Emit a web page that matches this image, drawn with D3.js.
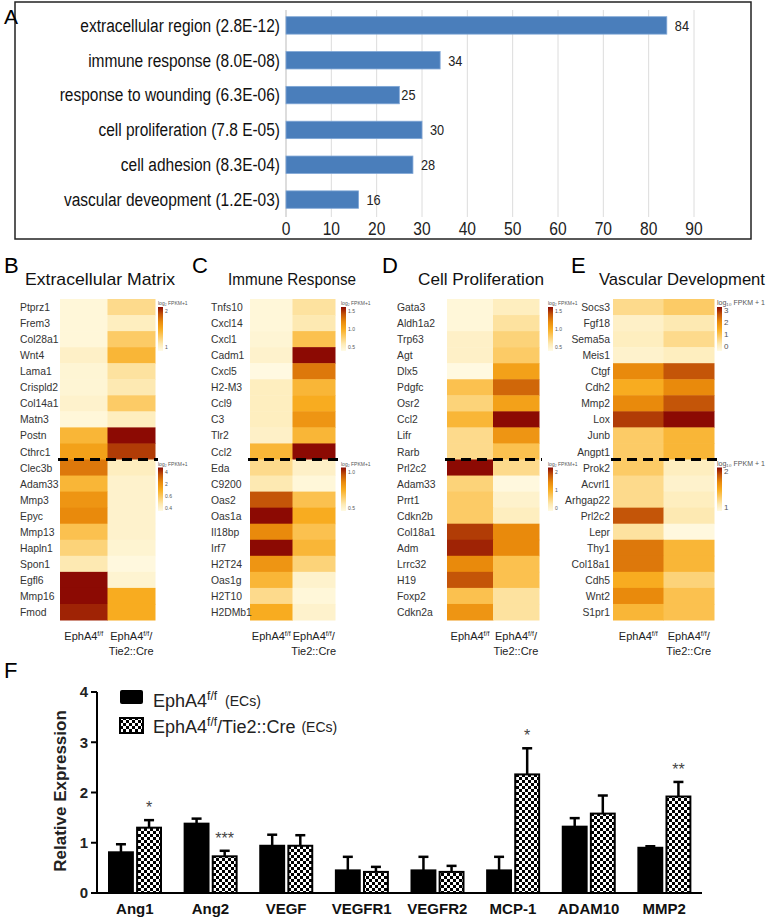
<!DOCTYPE html>
<html>
<head>
<meta charset="utf-8">
<script src="https://cdn.jsdelivr.net/npm/d3@7"></script>
<style>
  body { margin: 0; background: #fff; }
  svg text { font-family: "Liberation Sans", Arial, sans-serif; }
</style>
</head>
<body>
<svg id="fig" width="768" height="921"></svg>
<script>
// ---- panel A: GO terms ----
const goTerms = ['extracellular region (2.8E-12)', 'immune response (8.0E-08)', 'response to wounding (6.3E-06)',
  'cell proliferation (7.8 E-05)', 'cell adhesion (8.3E-04)', 'vascular deveopment (1.2E-03)'];
const goCounts = [84, 34, 25, 30, 28, 16];
const goTicks = [0, 10, 20, 30, 40, 50, 60, 70, 80, 90];

// ---- heatmaps B-E (relative intensity 0..1, [EphA4f/f, EphA4f/f/Tie2::Cre]) ----
const ecmGenes = ['Ptprz1', 'Frem3', 'Col28a1', 'Wnt4', 'Lama1', 'Crispld2', 'Col14a1', 'Matn3', 'Postn', 'Cthrc1',
  'Clec3b', 'Adam33', 'Mmp3', 'Epyc', 'Mmp13', 'Hapln1', 'Spon1', 'Egfl6', 'Mmp16', 'Fmod'];
const ecmWT = [0.05, 0.05, 0.05, 0.12, 0.07, 0.07, 0.1, 0.05, 0.5, 0.6, 0.75, 0.5, 0.65, 0.7, 0.45, 0.35, 0.2, 1.0, 1.0, 0.95];
const ecmKO = [0.3, 0.15, 0.4, 0.5, 0.25, 0.2, 0.4, 0.15, 1.0, 0.9, 0.15, 0.1, 0.1, 0.1, 0.1, 0.08, 0.03, 0.08, 0.55, 0.55];

const immGenes = ['Tnfs10', 'Cxcl14', 'Cxcl1', 'Cadm1', 'Cxcl5', 'H2-M3', 'Ccl9', 'C3', 'Tlr2', 'Ccl2',
  'Eda', 'C9200', 'Oas2', 'Oas1a', 'Il18bp', 'Irf7', 'H2T24', 'Oas1g', 'H2T10', 'H2DMb1'];
const immWT = [0.05, 0.05, 0.07, 0.1, 0.02, 0.15, 0.15, 0.15, 0.12, 0.5, 0.3, 0.2, 0.85, 1.0, 0.7, 1.0, 0.65, 0.5, 0.3, 0.55];
const immKO = [0.25, 0.2, 0.45, 1.0, 0.75, 0.5, 0.55, 0.65, 0.5, 1.0, 0.12, 0.05, 0.45, 0.55, 0.45, 0.5, 0.35, 0.1, 0.05, 0.1];

const proGenes = ['Gata3', 'Aldh1a2', 'Trp63', 'Agt', 'Dlx5', 'Pdgfc', 'Osr2', 'Ccl2', 'Lifr', 'Rarb',
  'Prl2c2', 'Adam33', 'Prrt1', 'Cdkn2b', 'Col18a1', 'Adm', 'Lrrc32', 'H19', 'Foxp2', 'Cdkn2a'];
const proWT = [0.05, 0.05, 0.12, 0.12, 0.02, 0.45, 0.35, 0.5, 0.3, 0.3, 1.0, 0.35, 0.4, 0.4, 0.9, 0.95, 0.7, 0.85, 0.45, 0.65];
const proKO = [0.15, 0.25, 0.35, 0.4, 0.6, 0.8, 0.6, 1.0, 0.65, 0.45, 0.3, 0.03, 0.1, 0.15, 0.7, 0.7, 0.45, 0.45, 0.25, 0.25];

const vasGenes = ['Socs3', 'Fgf18', 'Sema5a', 'Meis1', 'Ctgf', 'Cdh2', 'Mmp2', 'Lox', 'Junb', 'Angpt1',
  'Prok2', 'Acvrl1', 'Arhgap22', 'Prl2c2', 'Lepr', 'Thy1', 'Col18a1', 'Cdh5', 'Wnt2', 'S1pr1'];
const vasWT = [0.3, 0.12, 0.15, 0.1, 0.7, 0.55, 0.7, 0.9, 0.4, 0.4, 0.4, 0.3, 0.3, 0.85, 0.25, 0.75, 0.75, 0.55, 0.7, 0.5];
const vasKO = [0.4, 0.2, 0.3, 0.15, 0.85, 0.7, 0.85, 1.0, 0.5, 0.5, 0.15, 0.1, 0.15, 0.2, 0.03, 0.5, 0.5, 0.35, 0.45, 0.45];

// ---- panel F: qPCR ----
const qGenes = ['Ang1', 'Ang2', 'VEGF', 'VEGFR1', 'VEGFR2', 'MCP-1', 'ADAM10', 'MMP2'];
const wtMean = [0.81, 1.38, 0.94, 0.45, 0.45, 0.45, 1.32, 0.9];
const wtErr = [0.16, 0.1, 0.22, 0.27, 0.27, 0.27, 0.17, 0.03];
const koMean = [1.3, 0.73, 0.94, 0.42, 0.42, 2.36, 1.58, 1.92];
const koErr = [0.15, 0.11, 0.21, 0.1, 0.12, 0.52, 0.36, 0.29];
const koStars = ['*', '***', '', '', '', '*', '', '**'];
const qTicks = [0, 1, 2, 3, 4];

const svg = d3.select('#fig');

// squeeze a text horizontally (the reference uses a narrow face)
function squeeze(sel, k) {
  sel.each(function () {
    const w = this.getComputedTextLength();
    d3.select(this).attr('textLength', w * k).attr('lengthAdjust', 'spacingAndGlyphs');
  });
}

// ================= Panel A =================
const gA = svg.append('g');
gA.append('rect').attr('x', 15).attr('y', 2).attr('width', 736).attr('height', 237)
  .attr('fill', 'none').attr('stroke', '#222').attr('stroke-width', 1.5);
gA.append('text').attr('x', 4).attr('y', 24).attr('font-size', 21).text('A');

const xA = d3.scaleLinear().domain([0, 90]).range([286, 694]);
const yA = d3.scaleBand().domain(goTerms).range([8, 217]).paddingInner(0.5).paddingOuter(0.25);

gA.selectAll('line.grid').data(goTicks).join('line').attr('class', 'grid')
  .attr('x1', d => xA(d)).attr('x2', d => xA(d)).attr('y1', 10).attr('y2', 217)
  .attr('stroke', d => d === 0 ? '#bbb' : '#dcdcdc').attr('stroke-width', 1);

gA.selectAll('text.tick').data(goTicks).join('text').attr('class', 'tick')
  .attr('x', d => xA(d)).attr('y', 235).attr('text-anchor', 'middle')
  .attr('font-size', 19).attr('fill', '#222').text(d => d)
  .call(squeeze, 0.82);

gA.selectAll('rect.bar').data(goTerms).join('rect').attr('class', 'bar')
  .attr('x', xA(0)).attr('y', d => yA(d))
  .attr('width', (d, i) => xA(goCounts[i]) - xA(0)).attr('height', yA.bandwidth())
  .attr('fill', '#4a7ebb').attr('stroke', '#7fa6d6').attr('stroke-width', 0.8);

gA.selectAll('text.lab').data(goTerms).join('text').attr('class', 'lab')
  .attr('x', 280).attr('y', d => yA(d) + yA.bandwidth() / 2).attr('dy', '0.35em')
  .attr('text-anchor', 'end').attr('font-size', 18).attr('fill', '#111').text(d => d)
  .call(squeeze, 0.86);

gA.selectAll('text.val').data(goTerms).join('text').attr('class', 'val')
  .attr('x', (d, i) => xA(goCounts[i]) + (goCounts[i] === 25 ? 2 : 8))
  .attr('y', d => yA(d) + yA.bandwidth() / 2).attr('dy', '0.35em')
  .attr('font-size', 15).attr('fill', '#222').text((d, i) => goCounts[i])
  .call(squeeze, 0.85);

// ================= Heatmaps B-E =================
const heatColor = d3.scaleLinear()
  .domain([0, 0.2, 0.4, 0.55, 0.7, 0.85, 1])
  .range(['#fffbe6', '#fde9b2', '#fccb66', '#f8ac20', '#e98a0c', '#c45508', '#8c0a03'])
  .interpolate(d3.interpolateRgb);

const defs = svg.append('defs');
const grad = defs.append('linearGradient').attr('id', 'legGrad').attr('x1', 0).attr('y1', 0).attr('x2', 0).attr('y2', 1);
[1, 0.85, 0.7, 0.55, 0.4, 0.2, 0].forEach((v, i, a) => {
  grad.append('stop').attr('offset', i / (a.length - 1)).attr('stop-color', heatColor(v));
});
grad.append('stop').attr('offset', 1).attr('stop-color', '#ffffff');

const heatPanels = [
  { letter: 'B', lx: 4, title: 'Extracellular Matrix', tx: 25, tw: 150, genes: ecmGenes, wt: ecmWT, ko: ecmKO,
    x0: 60, x1: 155, labX: 20, anchor: 'start', legX: 158, legLab: 'log\u2082 FPKM+1', legT: ['2', '1'], legB: ['4', '2', '0.6', '0.4'] },
  { letter: 'C', lx: 192, title: 'Immune Response', tx: 228, tw: 128, genes: immGenes, wt: immWT, ko: immKO,
    x0: 250, x1: 335, labX: 211, anchor: 'start', legX: 341, legLab: 'log\u2082 FPKM+1', legT: ['1.5', '1.0', '0.5'], legB: ['1.0', '0.5'] },
  { letter: 'D', lx: 382, title: 'Cell Proliferation', tx: 418, tw: 126, genes: proGenes, wt: proWT, ko: proKO,
    x0: 447, x1: 539, labX: 397, anchor: 'start', legX: 548, legLab: 'log\u2082 FPKM+1', legT: ['1.5', '1.0', '0.5'], legB: ['2', '1', '0'] },
  { letter: 'E', lx: 571, title: 'Vascular Development', tx: 599, tw: 166, genes: vasGenes, wt: vasWT, ko: vasKO,
    x0: 613, x1: 714, labX: 610, anchor: 'end', legX: 717, legLab: 'log\u2081\u2080 FPKM + 1', legT: ['3', '2', '1', '0'], legB: ['2', '1'] }
];

const hTop = 299, hBot = 620;

heatPanels.forEach(p => {
  const g = svg.append('g');
  g.append('text').attr('x', p.lx).attr('y', 273).attr('font-size', 22).text(p.letter);
  g.append('text').attr('x', p.tx).attr('y', 285).attr('font-size', 17).attr('fill', '#111')
    .attr('textLength', p.tw).attr('lengthAdjust', 'spacingAndGlyphs').text(p.title);

  const yH = d3.scaleBand().domain(p.genes).range([hTop, hBot]);
  const xH = d3.scaleBand().domain(['wt', 'ko']).range([p.x0, p.x1]);

  const cells = [];
  p.genes.forEach((gname, i) => {
    cells.push({ gene: gname, grp: 'wt', v: p.wt[i] });
    cells.push({ gene: gname, grp: 'ko', v: p.ko[i] });
  });
  g.selectAll('rect.cell').data(cells).join('rect').attr('class', 'cell')
    .attr('x', d => xH(d.grp)).attr('y', d => yH(d.gene))
    .attr('width', xH.bandwidth() + 0.5).attr('height', yH.bandwidth() + 0.5)
    .attr('fill', d => heatColor(d.v));

  g.selectAll('text.gene').data(p.genes).join('text').attr('class', 'gene')
    .attr('x', p.labX).attr('y', d => yH(d) + yH.bandwidth() / 2).attr('dy', '0.35em')
    .attr('text-anchor', p.anchor).attr('font-size', 11.5)
    .attr('fill', '#333').text(d => d)
    .call(squeeze, 0.9);

  // split between up- and down-regulated genes
  const ySplit = yH(p.genes[10]);
  g.append('line').attr('x1', p.x0 - 2).attr('x2', p.x1 + 3).attr('y1', ySplit).attr('y2', ySplit)
    .attr('stroke', '#000').attr('stroke-width', 3).attr('stroke-dasharray', '10,6');

  // colour keys
  [[hTop + 6, p.legT], [ySplit + 6, p.legB]].forEach(([ly, labs]) => {
    g.append('text').attr('x', p.legX).attr('y', ly).attr('font-size', p.letter === 'E' ? 7 : 5)
      .attr('fill', '#555').text(p.legLab);
    g.append('rect').attr('x', p.legX).attr('y', ly + 2).attr('width', 5).attr('height', 44)
      .attr('fill', 'url(#legGrad)');
    labs.forEach((t, i) => {
      g.append('text').attr('x', p.legX + 7).attr('y', ly + 8 + i * (36 / Math.max(labs.length - 1, 1)))
        .attr('font-size', p.letter === 'E' ? 8 : 5).attr('fill', '#555').text(t);
    });
  });

  // column labels
  const c1 = xH('wt') + xH.bandwidth() / 2, c2 = xH('ko') + xH.bandwidth() / 2;
  const t1 = g.append('text').attr('x', c1).attr('y', 640).attr('text-anchor', 'middle').attr('font-size', 11).attr('fill', '#222');
  t1.append('tspan').text('EphA4');
  t1.append('tspan').attr('font-size', 7).attr('dy', -4).text('f/f');
  const t2 = g.append('text').attr('x', c2).attr('y', 640).attr('text-anchor', 'middle').attr('font-size', 11).attr('fill', '#222');
  t2.append('tspan').text('EphA4');
  t2.append('tspan').attr('font-size', 7).attr('dy', -4).text('f/f');
  t2.append('tspan').attr('dy', 4).text('/');
  g.append('text').attr('x', c2).attr('y', 655).attr('text-anchor', 'middle').attr('font-size', 11).attr('fill', '#222').text('Tie2::Cre');
});

// ================= Panel F =================
const pat = defs.append('pattern').attr('id', 'checks').attr('patternUnits', 'userSpaceOnUse')
  .attr('width', 6).attr('height', 6);
pat.append('rect').attr('width', 6).attr('height', 6).attr('fill', '#fff');
pat.append('rect').attr('width', 3).attr('height', 3).attr('fill', '#000');
pat.append('rect').attr('x', 3).attr('y', 3).attr('width', 3).attr('height', 3).attr('fill', '#000');

const gF = svg.append('g');
gF.append('text').attr('x', 4).attr('y', 678).attr('font-size', 22).text('F');

const xF = d3.scaleBand().domain(qGenes).range([97, 702]);
const xSub = d3.scaleBand().domain(['wt', 'ko']).range([12, 64]).paddingInner(0.15);
const yF = d3.scaleLinear().domain([0, 4]).range([893, 692]);

const bars = [];
qGenes.forEach((gname, i) => {
  bars.push({ gene: gname, grp: 'wt', m: wtMean[i], e: wtErr[i], s: '' });
  bars.push({ gene: gname, grp: 'ko', m: koMean[i], e: koErr[i], s: koStars[i] });
});
const bx = d => xF(d.gene) + xSub(d.grp);
const bw = xSub.bandwidth();

// error bars first, bars drawn on top
gF.selectAll('line.err').data(bars).join('line').attr('class', 'err')
  .attr('x1', d => bx(d) + bw / 2).attr('x2', d => bx(d) + bw / 2)
  .attr('y1', d => yF(d.m)).attr('y2', d => yF(d.m + d.e))
  .attr('stroke', '#000').attr('stroke-width', 2.5);
gF.selectAll('line.cap').data(bars).join('line').attr('class', 'cap')
  .attr('x1', d => bx(d) + bw / 2 - 5).attr('x2', d => bx(d) + bw / 2 + 5)
  .attr('y1', d => yF(d.m + d.e)).attr('y2', d => yF(d.m + d.e))
  .attr('stroke', '#000').attr('stroke-width', 2.5);

gF.selectAll('rect.qbar').data(bars).join('rect').attr('class', 'qbar')
  .attr('x', d => bx(d)).attr('y', d => yF(d.m)).attr('width', bw).attr('height', d => yF(0) - yF(d.m))
  .attr('fill', d => d.grp === 'wt' ? '#000' : 'url(#checks)')
  .attr('stroke', '#000').attr('stroke-width', 2);

gF.selectAll('text.star').data(bars.filter(d => d.s)).join('text').attr('class', 'star')
  .attr('x', d => bx(d) + bw / 2).attr('y', d => yF(d.m + d.e) - 7)
  .attr('text-anchor', 'middle').attr('font-size', 16).attr('fill', '#444').text(d => d.s);

// axes
gF.append('line').attr('x1', 97).attr('x2', 702).attr('y1', yF(0)).attr('y2', yF(0)).attr('stroke', '#000').attr('stroke-width', 2);
gF.append('line').attr('x1', 97).attr('x2', 97).attr('y1', yF(0)).attr('y2', yF(4)).attr('stroke', '#000').attr('stroke-width', 2);
gF.selectAll('line.yt').data(qTicks).join('line').attr('class', 'yt')
  .attr('x1', 91).attr('x2', 97).attr('y1', d => yF(d)).attr('y2', d => yF(d)).attr('stroke', '#000').attr('stroke-width', 2);
gF.selectAll('text.yl').data(qTicks).join('text').attr('class', 'yl')
  .attr('x', 88).attr('y', d => yF(d)).attr('dy', '0.35em').attr('text-anchor', 'end')
  .attr('font-size', 15).attr('font-weight', 'bold').attr('fill', '#222').text(d => d);
gF.append('text').attr('transform', 'translate(66,791) rotate(-90)').attr('text-anchor', 'middle')
  .attr('font-size', 17).attr('font-weight', 'bold').attr('fill', '#222').text('Relative Expression');
gF.selectAll('text.xl').data(qGenes).join('text').attr('class', 'xl')
  .attr('x', d => xF(d) + xF.bandwidth() / 2).attr('y', 914).attr('text-anchor', 'middle')
  .attr('font-size', 15).attr('font-weight', 'bold').attr('fill', '#111').text(d => d);

// legend
gF.append('rect').attr('x', 120).attr('y', 690).attr('width', 23).attr('height', 14).attr('rx', 2).attr('fill', '#000');
gF.append('rect').attr('x', 120).attr('y', 718).attr('width', 23).attr('height', 15).attr('fill', 'url(#checks)')
  .attr('stroke', '#000').attr('stroke-width', 2);
const l1 = gF.append('text').attr('x', 153).attr('y', 707).attr('font-size', 18).attr('fill', '#222');
l1.append('tspan').text('EphA4');
l1.append('tspan').attr('font-size', 12).attr('dy', -7).text('f/f');
l1.append('tspan').attr('font-size', 14).attr('dy', 6).attr('dx', 8).text('(ECs)');
const l2 = gF.append('text').attr('x', 153).attr('y', 733).attr('font-size', 18).attr('fill', '#222');
l2.append('tspan').text('EphA4');
l2.append('tspan').attr('font-size', 12).attr('dy', -7).text('f/f');
l2.append('tspan').attr('dy', 7).text('/Tie2::Cre');
l2.append('tspan').attr('font-size', 14).attr('dy', -1).attr('dx', 6).text('(ECs)');
</script>
</body>
</html>
